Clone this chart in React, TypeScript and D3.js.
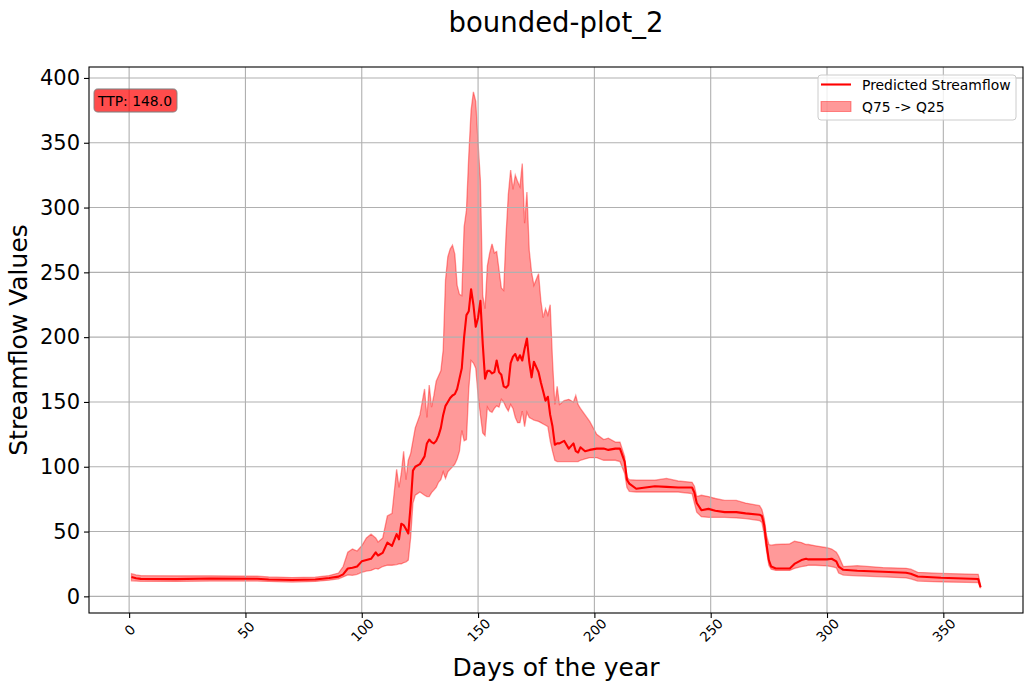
import React, { useRef, useEffect } from 'react';
import * as d3 from 'd3';

// day of year (sampled where the curve changes)
const days: number[] = [
  1, 3, 5, 20, 35, 55, 60, 70, 80, 86, 90, 92, 94, 96, 98, 100, 102, 104, 106, 107, 109, 111, 113, 115, 116, 117,
  118, 119, 120, 121, 122, 123, 125, 127, 128, 129, 130, 131, 132, 133, 134, 135, 136, 137, 138, 139, 140, 141,
  142, 143, 144, 145, 146, 147, 148, 149, 150, 151, 152, 153, 154, 155, 156, 157, 158, 159, 160, 161, 162, 163,
  164, 165, 166, 167, 168, 169, 170, 171, 172, 173, 174, 176, 177, 178, 179, 180, 181, 182, 183, 184, 185, 187,
  189, 191, 192, 193, 194, 196, 198, 201, 204, 206, 209, 211, 213, 214, 215, 218, 222, 226, 231, 236, 242, 243,
  244, 246, 249, 252, 256, 261, 265, 271, 272, 273, 274, 275, 276, 278, 284, 286, 289, 291, 292, 295, 300, 302,
  304, 305, 307, 313, 324, 334, 336, 339, 349, 365, 366,
];

// predicted streamflow (median)
const median: number[] = [
  15, 14, 13.5, 13.3, 13.8, 13.6, 13, 12.6, 13, 14.2, 15.2, 17, 21.5, 22, 23, 27, 28, 29, 34, 31.5, 33.5, 41.5, 39, 48, 44, 56,
  55, 52, 48.5, 70, 97, 100, 102, 108, 118, 121, 119, 118, 120, 124, 130, 140, 147, 150, 153, 155, 156, 160,
  168, 176, 200, 217, 220, 237, 225, 208, 215, 228, 195, 168, 174, 174, 172, 173, 182, 173, 171, 162, 161, 163,
  180, 185, 187, 182, 186, 182, 191, 199, 181, 169, 181, 173, 165, 158, 151, 154, 140, 131, 117, 118, 118, 120,
  114, 118, 112, 111, 115, 112, 113, 114, 114, 113, 114, 114, 104, 90, 87, 83, 84, 85, 84.5, 84, 84, 80,
  72, 66.5, 67.5, 66, 65, 65, 64, 63, 62, 55, 40, 28, 23, 21.5, 21.5, 25, 28, 29, 28.5, 28.5, 28.5, 29,
  27, 23, 20.5, 19.8, 19, 18.2, 17.5, 15.3, 14.3, 13.4, 7,
];

// Q75 (upper edge of band)
const q75: number[] = [
  17.5, 16.5, 16, 15.8, 15.8, 15.5, 15, 14.5, 14.8, 16, 18, 23, 34, 36.5, 35, 39, 45, 48, 45, 42, 45, 62, 64, 98, 84, 95,
  112, 90, 105, 110, 120, 130, 140, 160, 138, 163, 146, 155, 166, 170, 174, 190, 244, 262, 268, 271, 264, 240,
  233, 232, 285, 298, 340, 375, 389.3, 382, 350, 321, 232, 222, 255, 265, 272, 265, 266, 252, 238, 236, 278, 310,
  329, 314, 325, 320, 316, 334, 288, 312, 267, 250, 240, 249, 228, 215, 222, 217, 225, 182, 148, 162, 148, 151,
  152, 150, 155, 148, 145, 140, 135, 125, 121, 122, 119, 119, 108, 92, 90, 89.6, 89.6, 89.6, 91, 89, 88, 85,
  77, 78, 77, 75.5, 74, 74, 72, 70, 67, 60, 47, 40, 39.5, 40, 40.5, 42.5, 41.5, 40, 40, 39, 37.5, 36.5,
  34, 31, 23, 23.7, 22.2, 21.6, 21, 18.5, 17.7, 17, 8.5,
];

// Q25 (lower edge of band)
const q25: number[] = [
  12, 11.8, 11.6, 11.5, 11.8, 11.8, 11.5, 11, 11.5, 12.5, 13.5, 15, 16.5, 16.2, 17, 18.5, 19.5, 20, 21.5, 21, 23, 24, 24, 24.5, 25, 25,
  26, 26.5, 28, 45, 72, 78, 80.5, 78, 77, 77, 80, 82, 84, 88, 90, 96, 91, 96, 98, 100, 102, 106,
  112, 128, 120, 121, 160, 182, 180, 176, 155, 140, 126, 124, 146, 143, 142, 145, 147, 146, 152, 150, 146, 143,
  148, 145, 138, 134, 134, 143, 131, 142, 138, 137, 136, 135, 134, 133, 132, 131, 120, 112, 105, 104, 104, 104,
  104, 104, 104, 104, 105, 106, 107, 107, 105, 105, 105, 104, 95, 84, 81, 80.5, 80.5, 80.5, 80.5, 80.5, 79.3, 72,
  65, 61.5, 61, 61, 61, 60.5, 60, 58.5, 57, 48, 35, 24, 21, 20, 20, 21.5, 23, 23.5, 24, 24, 23.5, 23,
  22, 18, 16.4, 15.8, 15.1, 14.2, 13.5, 11.8, 11.1, 10.6, 6.3,
];

const xTicks: number[] = [0, 50, 100, 150, 200, 250, 300, 350];
const yTicks: number[] = [0, 50, 100, 150, 200, 250, 300, 350, 400];
const ttpLabel = 'TTP: 148.0';

const W = 1032;
const H = 691;
const FONT = 'DejaVu Sans, sans-serif';

const BoundedPlot: React.FC = () => {
  const svgRef = useRef<SVGSVGElement | null>(null);

  useEffect(() => {
    if (!svgRef.current) return;
    const svg = d3.select(svgRef.current);
    svg.selectAll('*').remove();

    const margin = { top: 67, right: 9, bottom: 78, left: 89 };
    const innerWidth = W - margin.left - margin.right;
    const innerHeight = H - margin.top - margin.bottom;

    const rows = days.map((d, i) => ({ day: d, med: median[i], hi: q75[i], lo: q25[i] }));

    // matplotlib-style 5% margins
    const xMin = d3.min(days) ?? 0;
    const xMax = d3.max(days) ?? 0;
    const xPad = (xMax - xMin) * 0.05;
    const yMin = Math.min(d3.min(q25) ?? 0, d3.min(median) ?? 0);
    const yMax = Math.max(d3.max(q75) ?? 0, d3.max(median) ?? 0);
    const yPad = (yMax - yMin) * 0.05;

    const xScale = d3.scaleLinear().domain([xMin - xPad, xMax + xPad]).range([0, innerWidth]);
    const yScale = d3.scaleLinear().domain([yMin - yPad, yMax + yPad]).range([innerHeight, 0]);

    svg.append('rect').attr('width', W).attr('height', H).attr('fill', '#ffffff');

    const g = svg.append('g').attr('transform', `translate(${margin.left},${margin.top})`);

    // band
    const area = d3.area<typeof rows[0]>()
      .x(d => xScale(d.day))
      .y0(d => yScale(d.lo))
      .y1(d => yScale(d.hi));

    g.append('path')
      .datum(rows)
      .attr('d', area)
      .attr('fill', 'rgba(255,0,0,0.4)')
      .attr('stroke', 'rgba(255,0,0,0.4)')
      .attr('stroke-width', 1.3);

    // grid (above band, below line like matplotlib)
    g.append('g')
      .selectAll('line')
      .data(xTicks)
      .enter()
      .append('line')
      .attr('x1', d => xScale(d))
      .attr('x2', d => xScale(d))
      .attr('y1', 0)
      .attr('y2', innerHeight)
      .attr('stroke', '#b0b0b0')
      .attr('stroke-width', 1.1);

    g.append('g')
      .selectAll('line')
      .data(yTicks)
      .enter()
      .append('line')
      .attr('x1', 0)
      .attr('x2', innerWidth)
      .attr('y1', d => yScale(d))
      .attr('y2', d => yScale(d))
      .attr('stroke', '#b0b0b0')
      .attr('stroke-width', 1.1);

    const line = d3.line<typeof rows[0]>()
      .x(d => xScale(d.day))
      .y(d => yScale(d.med));

    g.append('path')
      .datum(rows)
      .attr('d', line)
      .attr('fill', 'none')
      .attr('stroke', '#ff0000')
      .attr('stroke-width', 2.1)
      .attr('stroke-linejoin', 'round');

    // frame
    g.append('rect')
      .attr('width', innerWidth)
      .attr('height', innerHeight)
      .attr('fill', 'none')
      .attr('stroke', '#000')
      .attr('stroke-width', 1.1);

    // x axis
    const xAxis = g.append('g')
      .attr('transform', `translate(0,${innerHeight})`)
      .call(d3.axisBottom(xScale).tickValues(xTicks).tickSize(5).tickPadding(0).tickFormat(d3.format('d')));
    xAxis.select('.domain').remove();
    xAxis.selectAll('.tick line').attr('stroke', '#000').attr('stroke-width', 1.1);
    xAxis.selectAll<SVGTextElement, number>('.tick text')
      .attr('y', 0)
      .attr('dy', null)
      .attr('transform', 'translate(0,17) rotate(-45)')
      .attr('dominant-baseline', 'central')
      .style('text-anchor', 'middle')
      .style('font-family', FONT)
      .style('font-size', '13.5px')
      .attr('fill', '#000');

    // y axis
    const yAxis = g.append('g')
      .call(d3.axisLeft(yScale).tickValues(yTicks).tickSize(5).tickPadding(4).tickFormat(d3.format('d')));
    yAxis.select('.domain').remove();
    yAxis.selectAll('.tick line').attr('stroke', '#000').attr('stroke-width', 1.1);
    yAxis.selectAll('.tick text')
      .style('font-family', FONT)
      .style('font-size', '21px')
      .attr('fill', '#000');

    // labels
    svg.append('text')
      .attr('x', margin.left + innerWidth / 2)
      .attr('y', 32)
      .attr('text-anchor', 'middle')
      .style('font-family', FONT)
      .style('font-size', '27.5px')
      .text('bounded-plot_2');

    svg.append('text')
      .attr('x', margin.left + innerWidth / 2)
      .attr('y', 676)
      .attr('text-anchor', 'middle')
      .style('font-family', FONT)
      .style('font-size', '25px')
      .text('Days of the year');

    svg.append('text')
      .attr('transform', `translate(27,${margin.top + innerHeight / 2}) rotate(-90)`)
      .attr('text-anchor', 'middle')
      .style('font-family', FONT)
      .style('font-size', '25px')
      .text('Streamflow Values');

    // TTP badge
    const badge = svg.append('g').attr('transform', 'translate(94,89)');
    badge.append('rect')
      .attr('width', 83)
      .attr('height', 23)
      .attr('rx', 4)
      .attr('fill', 'rgba(255,0,0,0.7)')
      .attr('stroke', 'rgba(128,128,128,0.7)')
      .attr('stroke-width', 1.3);
    badge.append('text')
      .attr('x', 4)
      .attr('y', 12)
      .attr('dominant-baseline', 'central')
      .style('font-family', FONT)
      .style('font-size', '13.9px')
      .text(ttpLabel);

    // legend
    const legend = svg.append('g').attr('transform', 'translate(818,75)');
    legend.append('rect')
      .attr('width', 198)
      .attr('height', 45)
      .attr('rx', 3)
      .attr('fill', 'rgba(255,255,255,0.8)')
      .attr('stroke', '#cccccc')
      .attr('stroke-width', 1);
    legend.append('line')
      .attr('x1', 3).attr('x2', 33).attr('y1', 9.5).attr('y2', 9.5)
      .attr('stroke', '#ff0000').attr('stroke-width', 2.1);
    legend.append('rect')
      .attr('x', 3).attr('y', 26.5).attr('width', 30).attr('height', 10)
      .attr('fill', 'rgba(255,0,0,0.4)')
      .attr('stroke', 'rgba(255,0,0,0.4)');
    legend.append('text')
      .attr('x', 44).attr('y', 10).attr('dominant-baseline', 'central')
      .style('font-family', FONT).style('font-size', '13.9px')
      .text('Predicted Streamflow');
    legend.append('text')
      .attr('x', 44).attr('y', 32).attr('dominant-baseline', 'central')
      .style('font-family', FONT).style('font-size', '13.9px')
      .text('Q75 -> Q25');
  }, []);

  return (
    <svg
      ref={svgRef}
      width={W}
      height={H}
      style={{ position: 'absolute', left: 0, top: 0, display: 'block' }}
    />
  );
};

const App: React.FC = () => <BoundedPlot />;

export default App;
